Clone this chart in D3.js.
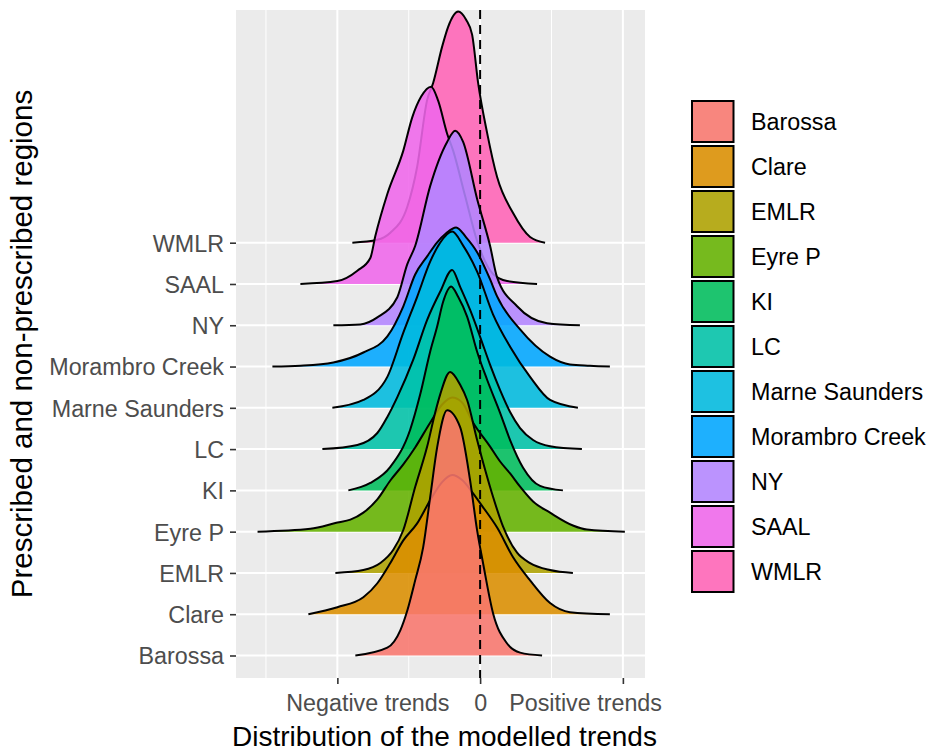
<!DOCTYPE html>
<html>
<head>
<meta charset="utf-8">
<script src="https://cdn.jsdelivr.net/npm/d3@7"></script>
<style>
  body { margin: 0; background: #fff; }
  svg { font-family: "Liberation Sans", Arial, sans-serif; }
</style>
</head>
<body>
<svg id="chart" width="933" height="756"></svg>
<script>
const regions = ['Barossa', 'Clare', 'EMLR', 'Eyre P', 'KI', 'LC', 'Marne Saunders', 'Morambro Creek', 'NY', 'SAAL', 'WMLR'];
const colors = ['#F8766D', '#DB8E00', '#AEA200', '#64B200', '#00BD5C', '#00C1A7', '#00BADE', '#00A6FF', '#B385FF', '#EF67EB', '#FF63B6'];
const xTicks = [-1, 0, 1];
const xTickLabels = ['Negative trends', '0', 'Positive trends'];
const xLabelPos = [-0.79, 0, 0.735]; // labels sit off their ticks in the original
const xMinor = [-1.5, -0.5, 0.5];

// ridge outlines: [trend, height in row units]
const barossa = [[-0.874, 0], [-0.65, 0.19], [-0.559, 0.61], [-0.51, 1.09], [-0.455, 1.82], [-0.399, 2.62], [-0.35, 3.83], [-0.301, 5.04], [-0.231, 5.94], [-0.14, 5.53], [-0.07, 4.24], [-0.021, 3.03], [0.021, 2.23], [0.091, 1.02], [0.189, 0.29], [0.28, 0.07], [0.434, 0]];
const clare = [[-1.203, 0], [-1.0, 0.17], [-0.818, 0.41], [-0.72, 0.75], [-0.629, 1.24], [-0.538, 1.79], [-0.441, 2.2], [-0.35, 2.76], [-0.266, 3.2], [-0.196, 3.37], [-0.126, 3.25], [-0.056, 2.96], [0.021, 2.59], [0.119, 2.1], [0.231, 1.38], [0.35, 0.82], [0.49, 0.27], [0.629, 0.05], [0.909, 0]];
const emlr = [[-1.014, 0], [-0.818, 0.07], [-0.699, 0.24], [-0.608, 0.56], [-0.538, 1.04], [-0.455, 2.08], [-0.371, 3.06], [-0.315, 3.88], [-0.28, 4.32], [-0.21, 4.87], [-0.14, 4.56], [-0.091, 4.19], [-0.021, 3.22], [0.035, 2.5], [0.091, 1.84], [0.161, 1.12], [0.259, 0.49], [0.35, 0.24], [0.49, 0.07], [0.65, 0]];
const eyreP = [[-1.559, 0], [-1.189, 0.07], [-1.0, 0.22], [-0.909, 0.29], [-0.818, 0.46], [-0.72, 0.78], [-0.629, 1.24], [-0.538, 1.63], [-0.455, 2.04], [-0.35, 2.64], [-0.266, 3.08], [-0.196, 3.25], [-0.126, 3.13], [-0.049, 2.64], [0.07, 2.06], [0.14, 1.7], [0.21, 1.41], [0.28, 1.09], [0.371, 0.73], [0.49, 0.46], [0.65, 0.15], [0.748, 0.05], [1.014, 0]];
const ki = [[-0.923, 0], [-0.769, 0.18], [-0.629, 0.57], [-0.49, 1.47], [-0.42, 2.32], [-0.35, 3.36], [-0.301, 3.97], [-0.259, 4.57], [-0.203, 4.94], [-0.154, 4.69], [-0.091, 4.21], [-0.021, 3.36], [0.049, 2.68], [0.14, 1.88], [0.21, 1.22], [0.301, 0.55], [0.42, 0.11], [0.58, 0]];
const lc = [[-1.105, 0], [-0.86, 0.1], [-0.72, 0.39], [-0.65, 0.78], [-0.58, 1.26], [-0.469, 2.16], [-0.371, 3.13], [-0.28, 3.81], [-0.196, 4.34], [-0.14, 3.93], [-0.07, 3.37], [0, 2.72], [0.07, 2.04], [0.14, 1.43], [0.21, 0.9], [0.28, 0.51], [0.371, 0.22], [0.49, 0.07], [0.713, 0]];
const marneSaunders = [[-1.035, 0], [-0.818, 0.19], [-0.65, 0.75], [-0.538, 1.82], [-0.441, 2.69], [-0.35, 3.54], [-0.28, 4.0], [-0.196, 4.27], [-0.119, 3.93], [-0.021, 3.3], [0.091, 2.26], [0.21, 1.48], [0.35, 0.75], [0.49, 0.19], [0.685, 0]];
const morambroCreek = [[-1.455, 0], [-1.259, 0.02], [-1.028, 0.1], [-0.818, 0.34], [-0.65, 0.73], [-0.538, 1.46], [-0.455, 2.23], [-0.371, 2.67], [-0.301, 3.01], [-0.238, 3.23], [-0.168, 3.37], [-0.098, 3.13], [-0.021, 2.77], [0.07, 2.11], [0.119, 1.7], [0.28, 0.9], [0.49, 0.24], [0.629, 0.05], [0.769, 0.02], [0.909, 0]];
const ny = [[-1.028, 0], [-0.839, 0.02], [-0.72, 0.19], [-0.58, 0.68], [-0.51, 1.48], [-0.455, 1.92], [-0.35, 3.37], [-0.231, 4.44], [-0.175, 4.71], [-0.119, 4.44], [-0.021, 3.06], [0.07, 1.92], [0.119, 1.16], [0.259, 0.46], [0.469, 0.05], [0.699, 0]];
const saal = [[-1.259, 0], [-1.0, 0.07], [-0.86, 0.32], [-0.769, 0.63], [-0.734, 1.16], [-0.65, 2.18], [-0.538, 3.23], [-0.476, 4.03], [-0.413, 4.54], [-0.343, 4.78], [-0.294, 4.44], [-0.231, 3.64], [-0.189, 3.23], [-0.105, 2.13], [-0.021, 1.04], [0.091, 0.24], [0.189, 0.07], [0.399, 0]];
const wmlr = [[-0.895, 0], [-0.72, 0.07], [-0.629, 0.24], [-0.51, 0.87], [-0.441, 1.84], [-0.371, 3.46], [-0.329, 3.87], [-0.266, 4.75], [-0.224, 5.23], [-0.154, 5.6], [-0.098, 5.4], [-0.056, 5.04], [-0.014, 3.87], [0.049, 2.66], [0.119, 1.59], [0.231, 0.72], [0.35, 0.14], [0.455, 0]];
const densities = [barossa, clare, emlr, eyreP, ki, lc, marneSaunders, morambroCreek, ny, saal, wmlr];

const svg = d3.select('#chart');
const panel = { left: 236, right: 645, top: 10, bottom: 678 };

const x = d3.scaleLinear().domain([-1.71, 1.155]).range([panel.left, panel.right]);
const y = d3.scalePoint().domain(regions).range([655.5, 242.7]);
const rowStep = y.step();
const h = d3.scaleLinear().domain([0, 1]).range([0, rowStep]);
const color = d3.scaleOrdinal(regions, colors);

// panel background and grid
svg.append('rect')
  .attr('x', panel.left).attr('y', panel.top)
  .attr('width', panel.right - panel.left).attr('height', panel.bottom - panel.top)
  .attr('fill', '#EBEBEB');

svg.selectAll('.minor').data(xMinor).enter().append('line')
  .attr('x1', d => x(d)).attr('x2', d => x(d))
  .attr('y1', panel.top).attr('y2', panel.bottom)
  .attr('stroke', '#fff').attr('stroke-width', 1);

svg.selectAll('.vmajor').data(xTicks).enter().append('line')
  .attr('x1', d => x(d)).attr('x2', d => x(d))
  .attr('y1', panel.top).attr('y2', panel.bottom)
  .attr('stroke', '#fff').attr('stroke-width', 2);

svg.selectAll('.hmajor').data(regions).enter().append('line')
  .attr('x1', panel.left).attr('x2', panel.right)
  .attr('y1', d => y(d)).attr('y2', d => y(d))
  .attr('stroke', '#fff').attr('stroke-width', 2);

// ridges: top row drawn first so lower rows sit in front
const ridges = regions.map((r, i) => ({ name: r, pts: densities[i] })).reverse();

const g = svg.append('g');
ridges.forEach(rd => {
  const base = y(rd.name);
  const area = d3.area()
    .x(d => x(d[0]))
    .y0(base)
    .y1(d => base - h(d[1]))
    .curve(d3.curveMonotoneX);
  const line = d3.line()
    .x(d => x(d[0]))
    .y(d => base - h(d[1]))
    .curve(d3.curveMonotoneX);
  g.append('path')
    .attr('d', area(rd.pts))
    .attr('fill', color(rd.name))
    .attr('fill-opacity', 0.88);
  g.append('path')
    .attr('d', line(rd.pts))
    .attr('fill', 'none')
    .attr('stroke', '#000')
    .attr('stroke-width', 2)
    .attr('stroke-linejoin', 'round');
});

// dashed zero line
svg.append('line')
  .attr('x1', x(0)).attr('x2', x(0))
  .attr('y1', panel.top).attr('y2', panel.bottom)
  .attr('stroke', '#000').attr('stroke-width', 2)
  .attr('stroke-dasharray', '9,6');

// axes
const xAxis = svg.append('g')
  .attr('transform', `translate(0,${panel.bottom})`)
  .call(d3.axisBottom(x).tickValues(xTicks).tickSize(6).tickPadding(6)
    .tickFormat((d, i) => xTickLabels[i]));
const yAxis = svg.append('g')
  .attr('transform', `translate(${panel.left},0)`)
  .call(d3.axisLeft(y).tickSize(6).tickPadding(6));

[xAxis, yAxis].forEach(ax => {
  ax.select('.domain').remove();
  ax.selectAll('.tick line').attr('stroke', '#333').attr('stroke-width', 1.6);
  ax.selectAll('.tick text')
    .attr('fill', '#4D4D4D')
    .style('font-size', '23.3px')
    .style('font-family', '"Liberation Sans", Arial, sans-serif');
});
xAxis.selectAll('.tick text')
  .attr('dy', '0.9em')
  .attr('x', (d, i) => x(xLabelPos[i]) - x(d));
yAxis.selectAll('.tick text').attr('dy', '0.36em');

// titles
svg.append('text')
  .attr('x', (panel.left + panel.right) / 2 + 4)
  .attr('y', 746)
  .attr('text-anchor', 'middle')
  .style('font-size', '28px')
  .text('Distribution of the modelled trends');

svg.append('text')
  .attr('transform', `translate(32,${(panel.top + panel.bottom) / 2}) rotate(-90)`)
  .attr('text-anchor', 'middle')
  .style('font-size', '29.5px')
  .text('Prescribed and non-prescribed regions');

// legend
const legend = svg.append('g').attr('transform', 'translate(692,101)');
const keys = legend.selectAll('g').data(regions).enter().append('g')
  .attr('transform', (d, i) => `translate(0,${i * 45})`);
keys.append('rect')
  .attr('width', 41.5).attr('height', 41)
  .attr('fill', '#F2F2F2');
keys.append('rect')
  .attr('width', 41.5).attr('height', 41)
  .attr('fill', d => color(d))
  .attr('fill-opacity', 0.88)
  .attr('stroke', '#000')
  .attr('stroke-width', 2);
keys.append('text')
  .attr('x', 59)
  .attr('y', 20.5)
  .attr('dy', '0.36em')
  .style('font-size', '23.3px')
  .text(d => d);
</script>
</body>
</html>
